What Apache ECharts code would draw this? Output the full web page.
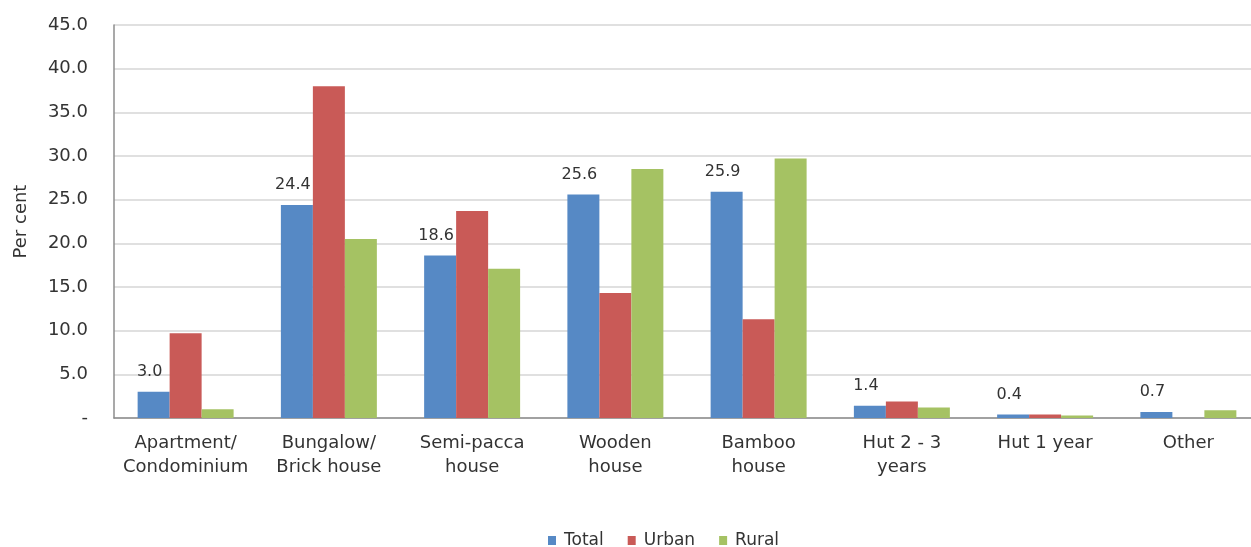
<!DOCTYPE html>
<html>
<head>
<meta charset="utf-8">
<script src="https://cdn.jsdelivr.net/npm/echarts@6/dist/echarts.min.js"></script>
<style>
  html, body { margin: 0; padding: 0; background: #fff; overflow: hidden; }
  /* the plot area runs slightly past the right edge of the window */
  #chart { width: 1260px; height: 547px; }
</style>
</head>
<body>
<div id="chart"></div>
<script>
// Dwelling type by area, per cent of households
const categories = [
  'Apartment/\nCondominium',
  'Bungalow/\nBrick house',
  'Semi-pacca\nhouse',
  'Wooden\nhouse',
  'Bamboo\nhouse',
  'Hut 2 - 3\nyears',
  'Hut 1 year',
  'Other'
];
const totalValues = [3.0, 24.4, 18.6, 25.6, 25.9, 1.4, 0.4, 0.7];
const urbanValues = [9.7, 38.0, 23.7, 14.3, 11.3, 1.9, 0.4, 0.0];
const ruralValues = [1.0, 20.5, 17.1, 28.5, 29.7, 1.2, 0.3, 0.9];
const yTicks = { min: 0, max: 45, interval: 5 };

const FONT = 'DejaVu Sans';
const TEXT = '#333333';

const chart = echarts.init(document.getElementById('chart'), null, { renderer: 'canvas' });

function barSeries(name, data, color, withLabel) {
  return {
    name: name,
    type: 'bar',
    data: data,
    barGap: '0%',
    barCategoryGap: '33%',
    itemStyle: { color: color },
    label: withLabel ? {
      show: true,
      position: 'top',
      distance: 12,
      offset: [-4, 0],
      fontFamily: FONT,
      fontSize: 16,
      color: TEXT,
      formatter: p => p.value.toFixed(1)
    } : { show: false },
    emphasis: { disabled: true }
  };
}

chart.setOption({
  animation: false,
  backgroundColor: '#ffffff',
  textStyle: { fontFamily: FONT },
  grid: { left: 114, right: 0, top: 25, bottom: 129, containLabel: false },
  legend: {
    data: ['Total', 'Urban', 'Rural'],
    top: 527,
    left: 543,
    icon: 'rect',
    itemWidth: 8,
    itemHeight: 9,
    itemGap: 24,
    textStyle: { fontFamily: FONT, fontSize: 17, color: TEXT, padding: [0, 0, 0, 3] }
  },
  xAxis: {
    type: 'category',
    data: categories,
    axisLine: { show: true, lineStyle: { color: '#8c8c8c', width: 1.5 } },
    axisTick: { show: false },
    axisLabel: {
      fontFamily: FONT,
      fontSize: 18,
      color: TEXT,
      margin: 13,
      lineHeight: 24,
      interval: 0
    },
    splitLine: { show: false }
  },
  yAxis: {
    type: 'value',
    min: yTicks.min,
    max: yTicks.max,
    interval: yTicks.interval,
    name: 'Per cent',
    nameLocation: 'middle',
    nameRotate: 90,
    nameGap: 84,
    nameTextStyle: { fontFamily: FONT, fontSize: 18, color: TEXT },
    axisLine: { show: true, lineStyle: { color: '#8c8c8c', width: 1.5 } },
    axisTick: { show: false },
    axisLabel: {
      fontFamily: FONT,
      fontSize: 18,
      color: TEXT,
      margin: 26,
      formatter: v => (v === 0 ? '-' : v.toFixed(1))
    },
    splitLine: { show: true, lineStyle: { color: '#d6d6d6', width: 1.5 } }
  },
  series: [
    barSeries('Total', totalValues, '#5689c5', true),
    barSeries('Urban', urbanValues, '#c95a57', false),
    barSeries('Rural', ruralValues, '#a5c263', false)
  ]
});
</script>
</body>
</html>
